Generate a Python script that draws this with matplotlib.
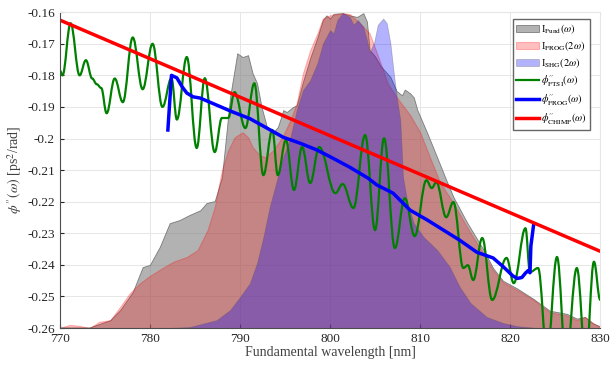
import numpy as np
import matplotlib
matplotlib.use('Agg')
import matplotlib.pyplot as plt
from matplotlib.path import Path
from matplotlib.patches import PathPatch
from matplotlib.lines import Line2D

plt.rcParams['font.family'] = ['Liberation Serif', 'DejaVu Serif']
plt.rcParams['mathtext.fontset'] = 'stix'

# -------- data --------
# spectra (plotted on the phase axis, filled down to -0.26)
fund_x = [770.0, 773.3, 775.6, 776.7, 778.1, 779.2, 780.0, 781.1, 782.2, 783.3, 784.4, 785.6,
          786.3, 787.2, 788.0, 788.9, 789.7, 790.3, 790.9, 791.4, 791.9, 792.4, 793.0, 793.6,
          794.2, 794.6, 794.8, 795.2, 795.9, 796.3, 797.0, 797.8, 798.6, 799.2, 799.6, 800.0,
          800.4, 801.4, 802.2, 803.0, 803.7, 804.1, 804.4, 805.0, 805.6, 806.7, 807.4, 808.0,
          808.3, 808.9, 809.3, 809.7, 810.8, 811.9, 813.0, 813.7, 815.2, 817.0, 818.1, 819.2,
          820.8, 822.6, 824.4, 826.3, 827.4, 828.3, 829.2, 830.0]
fund_y = [-0.2598, -0.2598, -0.2575, -0.2543, -0.2486, -0.2407, -0.2400, -0.2343, -0.2268, -0.2258,
          -0.2242, -0.2227, -0.2204, -0.2198, -0.2122, -0.1869, -0.1730, -0.1742, -0.1736, -0.1793,
          -0.1825, -0.1900, -0.1964, -0.1983, -0.1964, -0.1930, -0.1910, -0.1916, -0.1900, -0.1895,
          -0.1820, -0.1745, -0.1680, -0.1625, -0.1610, -0.1620, -0.1605, -0.1603, -0.1610, -0.1615,
          -0.1603, -0.1630, -0.1720, -0.1740, -0.1770, -0.1805, -0.1850, -0.1863, -0.1845, -0.1857,
          -0.1870, -0.1910, -0.1983, -0.2060, -0.2138, -0.2185, -0.2265, -0.2350, -0.2410, -0.2450,
          -0.2475, -0.2508, -0.2545, -0.2555, -0.2570, -0.2565, -0.2585, -0.2595]

frog_x = [770.0, 771.1, 772.2, 773.3, 774.4, 775.6, 776.7, 777.8, 778.9, 780.0, 781.4, 782.6,
          784.1, 785.3, 786.4, 787.2, 788.0, 788.7, 789.4, 790.3, 790.9, 791.4, 792.2, 792.8,
          793.7, 794.7, 795.6, 796.3, 797.0, 797.8, 798.6, 799.2, 800.0, 801.4, 802.2, 803.3,
          804.4, 805.6, 806.4, 807.4, 808.9, 810.0, 811.1, 812.2, 813.7, 815.2, 817.0, 818.1,
          819.2, 820.8, 822.6, 824.4, 826.3, 827.4, 828.3, 829.2, 830.0]
frog_y = [-0.2600, -0.2590, -0.2593, -0.2600, -0.2580, -0.2575, -0.2533, -0.2489, -0.2458, -0.2435,
          -0.2410, -0.2390, -0.2375, -0.2353, -0.2290, -0.2217, -0.2100, -0.2037, -0.1996, -0.1980,
          -0.1996, -0.2027, -0.2053, -0.2059, -0.2037, -0.1996, -0.1942, -0.1888, -0.1793, -0.1720,
          -0.1667, -0.1620, -0.1610, -0.1603, -0.1606, -0.1635, -0.1667, -0.1760, -0.1825, -0.1869,
          -0.1926, -0.1980, -0.2060, -0.2138, -0.2204, -0.2280, -0.2363, -0.2417, -0.2455, -0.2480,
          -0.2511, -0.2550, -0.2560, -0.2575, -0.2565, -0.2585, -0.2597]

shg_x = [770.0, 782.0, 784.4, 787.4, 788.9, 790.0, 791.1, 791.9, 792.6, 793.3, 794.1, 794.8,
         795.6, 796.3, 797.0, 797.8, 798.6, 799.2, 800.0, 800.4, 800.8, 801.4, 802.2, 802.6,
         803.1, 803.7, 804.1, 804.4, 804.9, 805.3, 805.9, 806.3, 806.7, 807.0, 807.4, 807.8,
         808.1, 808.6, 809.3, 810.4, 811.9, 813.3, 814.4, 815.6, 817.4, 819.2, 820.8, 823.0, 830.0]
shg_y = [-0.2600, -0.2600, -0.2597, -0.2575, -0.2543, -0.2502, -0.2458, -0.2394, -0.2312, -0.2217,
         -0.2132, -0.2059, -0.1996, -0.1910, -0.1847, -0.1815, -0.1761, -0.1700, -0.1657, -0.1667,
         -0.1625, -0.1603, -0.1615, -0.1640, -0.1625, -0.1647, -0.1689, -0.1727, -0.1695, -0.1640,
         -0.1620, -0.1635, -0.1698, -0.1774, -0.1869, -0.1942, -0.2122, -0.2204, -0.2268, -0.2312,
         -0.2353, -0.2407, -0.2470, -0.2521, -0.2565, -0.2584, -0.2594, -0.2600, -0.2600]

# GDD curves (FTSI: turning points of the oscillation)
ftsi_x = [770.0, 770.3, 771.2, 772.2, 772.9, 773.6, 774.1, 774.6, 775.2, 776.1, 777.0, 778.1,
          779.2, 780.3, 781.4, 782.4, 783.0, 784.1, 785.2, 786.1, 787.2, 788.0, 788.7, 789.4,
          790.6, 791.6, 792.6, 793.6, 794.2, 795.1, 796.0, 796.9, 797.8, 798.8, 800.6, 801.4,
          802.6, 803.9, 805.0, 806.0, 807.2, 808.3, 809.4, 810.7, 811.3, 811.8, 812.9, 813.7,
          814.8, 815.3, 815.9, 816.9, 818.0, 819.6, 820.4, 821.7, 822.2, 823.1, 824.1, 825.2,
          826.2, 827.4, 828.4, 829.3, 830.0]
ftsi_y = [-0.1784, -0.1800, -0.1635, -0.1800, -0.1752, -0.1810, -0.1828, -0.1840, -0.1920, -0.1810,
          -0.1885, -0.1680, -0.1844, -0.1700, -0.1900, -0.1809, -0.1940, -0.1742, -0.2030, -0.1809,
          -0.2043, -0.1935, -0.1935, -0.1853, -0.1967, -0.1825, -0.2116, -0.1973, -0.2116, -0.2005,
          -0.2163, -0.2027, -0.2141, -0.2027, -0.2173, -0.2144, -0.2220, -0.1989, -0.2290, -0.1999,
          -0.2347, -0.2189, -0.2309, -0.2132, -0.2157, -0.2138, -0.2249, -0.2201, -0.2410, -0.2401,
          -0.2448, -0.2315, -0.2511, -0.2378, -0.2458, -0.2284, -0.2423, -0.2410, -0.2680, -0.2375,
          -0.2700, -0.2410, -0.2700, -0.2390, -0.2511]

frog_phi_x = [782.0, 782.4, 783.0, 783.6, 784.1, 784.8, 785.6, 787.4, 789.2, 791.1, 793.0, 794.8,
              796.7, 798.6, 800.3, 802.2, 804.2, 805.2, 807.0, 808.9, 810.8, 812.6, 814.4, 816.3,
              818.1, 819.2, 820.3, 820.8, 821.3, 821.7, 822.0, 822.2, 822.3, 822.6]
frog_phi_y = [-0.1973, -0.1800, -0.1808, -0.1837, -0.1856, -0.1868, -0.1872, -0.1894, -0.1916, -0.1937,
              -0.1967, -0.1996, -0.2015, -0.2037, -0.2062, -0.2091, -0.2125, -0.2147, -0.2173, -0.2227,
              -0.2258, -0.2290, -0.2322, -0.2360, -0.2378, -0.2405, -0.2435, -0.2443, -0.2440, -0.2426,
              -0.2418, -0.2425, -0.2340, -0.2274]

chimp_x = [770.0, 830.0]
chimp_y = [-0.1625, -0.2357]

base = -0.26

green = (0, 0.5, 0)


def smooth_path(xs, ys, k=0.38):
    # bezier through the turning points, flat tangent at each one
    verts = [(xs[0], ys[0])]
    codes = [Path.MOVETO]
    for i in range(len(xs) - 1):
        dx = xs[i + 1] - xs[i]
        verts += [(xs[i] + k * dx, ys[i]), (xs[i + 1] - k * dx, ys[i + 1]), (xs[i + 1], ys[i + 1])]
        codes += [Path.CURVE4] * 3
    return Path(verts, codes)


# -------- plotting --------
fig = plt.figure(figsize=(6.1, 3.69), dpi=100)
ax = fig.add_axes([0.098, 0.111, 0.886, 0.856])

ax.fill_between(fund_x, fund_y, base, facecolor=(0.5, 0.5, 0.5), alpha=0.6,
                edgecolor='0.25', linewidth=0.6, label=r'I$_{\rm Fund}(\omega)$')
ax.fill_between(frog_x, frog_y, base, facecolor=(1, 0, 0), alpha=0.25,
                edgecolor='red', linewidth=0.8, label=r'I$_{\rm FROG}(2\omega)$')
ax.fill_between(shg_x, shg_y, base, facecolor=(0, 0, 1), alpha=0.3,
                edgecolor='0.3', linewidth=0.6, label=r'I$_{\rm SHG}(2\omega)$')

ax.add_patch(PathPatch(smooth_path(ftsi_x, ftsi_y), fill=False, edgecolor=green,
                       lw=1.6, joinstyle='round', capstyle='round'))
ax.plot(frog_phi_x, frog_phi_y, color='blue', lw=2.5, solid_joinstyle='round')
ax.plot(chimp_x, chimp_y, color='red', lw=2.5)

ax.set_xlim(770, 830)
ax.set_ylim(-0.26, -0.16)
ax.set_xticks(np.arange(770, 831, 10))
ax.set_yticks(np.arange(-0.26, -0.159, 0.01))
ax.set_yticklabels(['-0.26', '-0.25', '-0.24', '-0.23', '-0.22', '-0.21', '-0.2',
                    '-0.19', '-0.18', '-0.17', '-0.16'])
ax.grid(True, color='0.9', linewidth=0.7)
ax.set_axisbelow(True)
ax.tick_params(direction='in', length=3, labelsize=9.5, colors='0.15')
for s in ['top', 'right']:
    ax.spines[s].set_color('0.9')
for s in ['left', 'bottom']:
    ax.spines[s].set_color('0.3')

ax.set_xlabel('Fundamental wavelength [nm]', fontsize=10, color='0.25', labelpad=1)
ax.set_ylabel(r'$\phi^{\prime\prime}(\omega)$ [ps$^2$/rad]', fontsize=10, color='0.25', labelpad=2)

handles, labels = ax.get_legend_handles_labels()
handles += [Line2D([], [], color=green, lw=1.6), Line2D([], [], color='blue', lw=2.5),
            Line2D([], [], color='red', lw=2.5)]
labels += [r'$\phi^{\prime\prime}_{\rm FTSI}(\omega)$', r'$\phi^{\prime\prime}_{\rm FROG}(\omega)$',
           r'$\phi^{\prime\prime}_{\rm CHIMP}(\omega)$']
ax.legend(handles, labels, loc='upper right', bbox_to_anchor=(0.985, 0.985), fontsize=7.5,
          fancybox=False, edgecolor='0.4', framealpha=1, handlelength=2.2, handletextpad=0.2,
          labelspacing=0.3, borderpad=0.3, borderaxespad=0.2)

fig.savefig('out.png', dpi=100)
